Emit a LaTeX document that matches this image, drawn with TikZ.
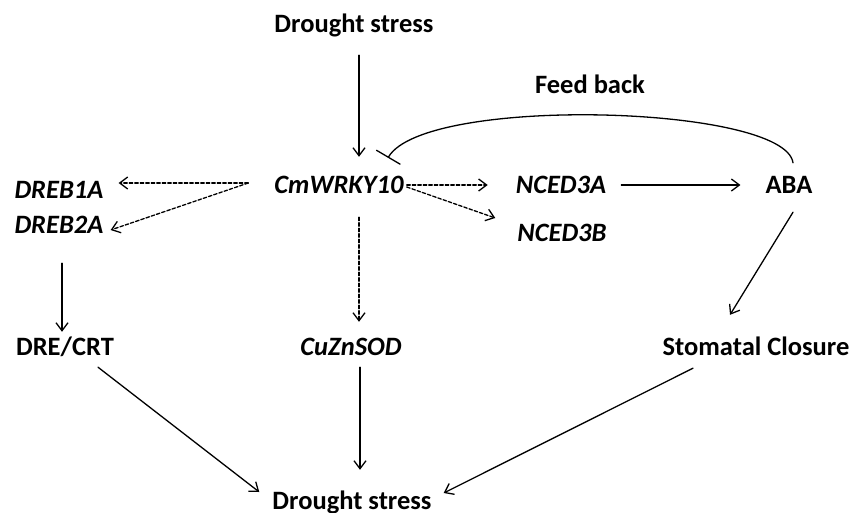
\documentclass[tikz,border=0pt]{standalone}
\usepackage{fontspec}
\setmainfont{Carlito}
\usetikzlibrary{arrows.meta}
\begin{document}
\begin{tikzpicture}[x=1pt,y=-1pt,font=\fontsize{26.5}{30}\selectfont\bfseries, line join=round, line cap=round,
	lbl/.style={anchor=base,inner sep=0pt,text height=17pt,text depth=0pt},
	gene/.style={lbl,font=\fontsize{26.5}{30}\selectfont\bfseries\itshape},
	arr/.style={line width=1.3pt,-{Straight Barb[length=8pt,width=12pt,line width=1.3pt]}},
	darr/.style={arr,dash pattern=on 3.5pt off 2pt}]
	\useasboundingbox (0,0) rectangle (853,512);
	\node[lbl] (ds1) at (354,32) {Drought stress};
	\node[lbl] (fb) at (590,93) {Feed back};
	\node[gene] (wrky) at (339,193) {CmWRKY10};
	\node[gene] (dreb1) at (59,198) {DREB1A};
	\node[gene] (dreb2) at (59,233) {DREB2A};
	\node[gene] (nced3a) at (561,193) {NCED3A};
	\node[gene] (nced3b) at (562,241) {NCED3B};
	\node[lbl] (aba) at (789,193) {ABA};
	\node[lbl] (dre) at (65,355) {DRE/CRT};
	\node[gene] (sod) at (351,355) {CuZnSOD};
	\node[lbl] (stom) at (756,355) {Stomatal Closure};
	\node[lbl] (ds2) at (352,509) {Drought stress};
	\draw[arr] ([shift={(5,23)}]ds1.south)--([shift={(20,-19)}]wrky.north);
	\draw[darr] ([shift={(-26,-1.5)}]wrky.west)--([shift={(15,-6.5)}]dreb1.east);
	\draw[darr] ([shift={(-26,-1.5)}]wrky.west)--([shift={(7,5.5)}]dreb2.east);
	\draw[darr] ([shift={(3,0.5)}]wrky.east)--([shift={(-28,0.5)}]nced3a.west);
	\draw[darr] ([shift={(3,2.5)}]wrky.east)--([shift={(-22,-14.5)}]nced3b.west);
	\draw[arr] ([shift={(15,0.5)}]nced3a.east)--([shift={(-25,0.5)}]aba.west);
	\draw[line width=1.3pt,-{Bar[width=28pt,line width=1.3pt]}] ([shift={(4,-13)}]aba.north) .. controls (785,105) and (425,95) .. ([shift={(49,-18)}]wrky.north);
	\draw[arr] ([shift={(4,19)}]aba.south)--([shift={(-26,-23)}]stom.north);
	\draw[arr] ([shift={(3,30)}]dreb2.south)--([shift={(-3,-6)}]dre.north);
	\draw[darr] ([shift={(20,24)}]wrky.south)--([shift={(8,-16)}]sod.north);
	\draw[arr] ([shift={(33,12)}]dre.south)--([shift={(-13,-8.5)}]ds2.west);
	\draw[arr] ([shift={(9,12)}]sod.south)--([shift={(8,-22)}]ds2.north);
	\draw[arr] ([shift={(-63,13)}]stom.south)--([shift={(12,-7.5)}]ds2.east);
\end{tikzpicture}
\end{document}
